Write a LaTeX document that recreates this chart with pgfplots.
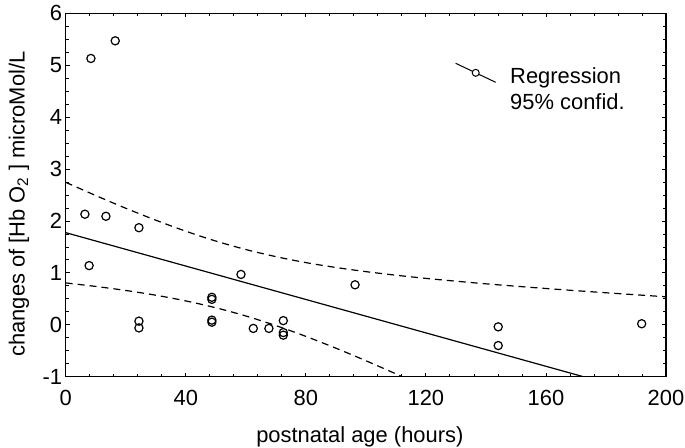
\documentclass[border=0pt]{standalone}
\usepackage{fontspec}
\setmainfont{Liberation Sans}
\usepackage{pgfplots}
\pgfplotsset{compat=1.18}
\begin{document}
\begin{tikzpicture}
\begin{axis}[
  scale only axis, width=600.3bp, height=363.4bp,
  xmin=0, xmax=200, ymin=-1, ymax=6,
  xtick={0,40,...,200}, ytick={-1,0,...,6},
  minor x tick num=4, minor y tick num=3,
  tick align=inside, major tick length=4bp, minor tick length=3bp,
  tick style={black, line width=0.8bp},
  axis line style={black, line width=1.3bp},
  ticklabel style={font=\fontsize{22}{26}\selectfont},
  /pgf/number format/assume math mode=true,
  xticklabel style={yshift=-10bp},
  xlabel={postnatal age (hours)},
  ylabel={changes of [Hb O\textsubscript{2} ] microMol/L},
  label style={font=\fontsize{22}{26}\selectfont},
  xlabel style={at={(axis description cs:0.49,-0.166)}, anchor=center},
  ylabel style={at={(axis description cs:-0.078,0.475)}, anchor=center},
  legend style={draw=none, fill=none, at={(axis cs:129.7,5.05)}, anchor=north west,
    font=\fontsize{22}{26}\selectfont, inner sep=0pt, row sep=5bp,
    nodes={text height=16bp, text depth=5bp, inner sep=0pt},
    /tikz/every odd column/.append style={column sep=14bp}},
  legend cell align=left,
]
\addplot[only marks, mark=o, mark size=4.1bp, mark options={black, line width=1.2bp}, forget plot]
coordinates {
(8.4,5.13) (16.5,5.47) (6.4,2.13) (13.4,2.09) (24.4,1.87) (7.8,1.14)
(24.4,0.07) (24.4,-0.06) (48.7,0.53) (48.7,0.49) (48.7,0.09) (48.7,0.05)
(58.4,0.97) (62.5,-0.07) (67.7,-0.07) (72.5,0.08) (72.5,-0.15) (72.5,-0.20)
(96.4,0.77) (144.1,-0.04) (144.1,-0.40) (191.9,0.02)
};
\addplot[black, line width=1.2bp,
  legend image code/.code={
    \path (20bp,-9.5bp);
    \draw[black, line width=1bp] (0bp,14.5bp) -- (40bp,-4.5bp);
    \draw[black, line width=1bp, fill=white] (20bp,5bp) circle (3.5bp);}]
coordinates {(0,1.775) (200,-1.443)};
\addlegendentry{Regression}
\addplot[black, line width=1.2bp, dash pattern=on 7bp off 5bp, smooth,
  legend image code/.code={}]
coordinates {
(0,2.744) (10,2.490) (20,2.245) (30,2.015) (40,1.803) (50,1.613) (60,1.450)
(70,1.313) (80,1.198) (90,1.104) (100,1.024) (110,0.955) (120,0.894)
(130,0.840) (140,0.789) (150,0.743) (160,0.699) (170,0.657) (180,0.617)
(190,0.578) (200,0.539)
};
\addlegendentry{95\% confid.}
\addplot[black, line width=1.2bp, dash pattern=on 7bp off 5bp, smooth, forget plot]
coordinates {
(0,0.806) (10,0.739) (20,0.661) (30,0.570) (40,0.460) (50,0.328) (60,0.170)
(70,-0.015) (80,-0.223) (90,-0.450) (100,-0.692) (110,-0.945) (120,-1.206)
};
\end{axis}
\pgfresetboundingbox
\path[use as bounding box] ([xshift=-65.7bp,yshift=-71.3bp]current axis.south west) rectangle ([xshift=19bp,yshift=13.3bp]current axis.north east);
\end{tikzpicture}
\end{document}
